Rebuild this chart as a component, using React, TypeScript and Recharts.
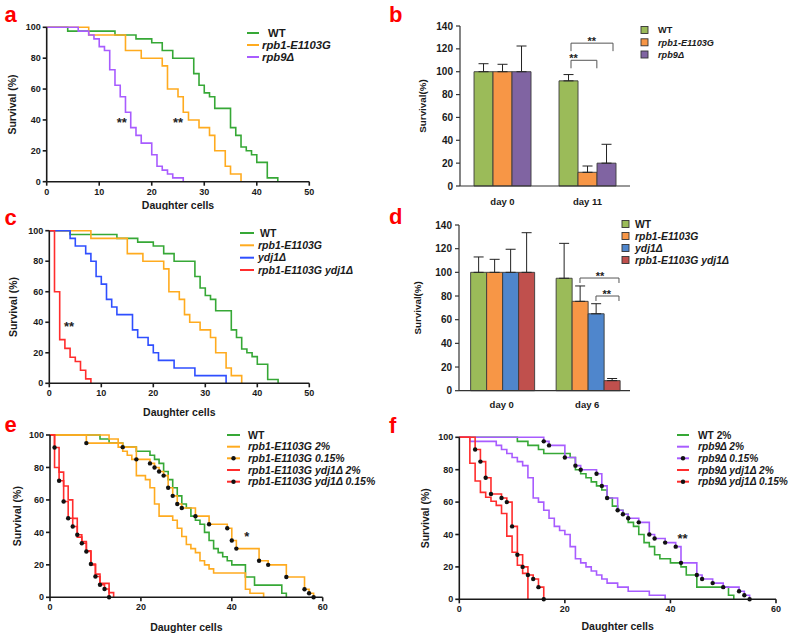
import React from 'react';
import { LineChart, Line, XAxis, YAxis, BarChart, Bar, ErrorBar, ReferenceLine, ReferenceDot } from 'recharts';

const FONT = "'Liberation Sans', Arial, Helvetica, sans-serif";
const INK = '#1a1a1a';
const GREEN = '#36a836';
const ORANGE = '#ffab1f';
const PURPLE = '#a85cff';
const BLUE = '#2f4fff';
const RED = '#ff2d2d';

// ---------- Panel a / c (survival curves: [daughter cells, survival %]) ----------
const wtA: number[][] = [[0,100],[4,97.5],[13,95],[17,92.5],[20,90],[22,85],[24,80],[28,70],[29,62.5],[30,57.5],[31,55],[32,47.5],[35,35],[36,30],[37,22.5],[38,20],[39,17.5],[40,12.5],[42,2.5],[44,0]];
const rpb1A: number[][] = [[0,100],[8,95],[15,85],[18,80],[22,75],[23,60],[25,55],[26,45],[27,40],[29,35],[31,30],[32,20],[34,10],[35,5],[37,0]];
const rpb9A: number[][] = [[0,100],[6,97.5],[8,95],[9,92.5],[10,87.5],[11,85],[12,72.5],[13,62.5],[14,55],[15,45],[16,35],[17,30],[18,25],[20,17.5],[21,10],[22,7.5],[23,5],[24,2.5],[26,0]];
const ydj1C: number[][] = [[0,100],[4,95],[5,90],[7,85],[8,80],[9,70],[10,65],[11,55],[12,50],[13,45],[16,35],[17,30],[19,25],[20,20],[21,15],[24,10],[28,5],[34,0]];
const doubleC: number[][] = [[0,100],[1,60],[2,28.6],[3,22.9],[4,17.1],[5,14.3],[6,8.6],[7,2.9],[8,0]];

// ---------- Panel e ----------
const wtE: number[][] = [[0,100],[11,97.5],[13,95],[16,92.5],[19,90],[22,87.5],[23,85],[24,82.5],[25,77.5],[26,72.5],[27,67.5],[28,62.5],[29,57.5],[30,55],[31,50],[32,47.5],[33,45],[34,40],[35,35],[36,30],[37,27.5],[38,25],[39,22.5],[40,20],[43,12.5],[45,7.5],[51,2.5],[52,0]];
const rpb1E2: number[][] = [[0,100],[13,97.5],[15,92.5],[16,90],[17,87.5],[18,85],[19,75],[21,72.5],[22,67.5],[23,57.5],[24,50],[27,47.5],[28,42.5],[29,37.5],[30,32.5],[31,30],[32,27.5],[33,22.5],[34,20],[35,17.5],[36,15],[43,5],[44,2.5],[47,0]];
const rpb1E015: number[][] = [[0,100],[8,95],[16,92.5],[19,85],[22,82.5],[23,80],[24,77.5],[25,75],[26,67.5],[27,62.5],[28,57.5],[29,55],[32,50],[35,45],[39,42.5],[40,35],[41,30],[46,22.5],[48,20],[52,12.5],[56,5],[57,2.5],[58,0]];
const dblE2: number[][] = [[0,100],[1,80],[2,77.1],[3,68.6],[4,60],[5,48.6],[6,37.1],[7,34.3],[8,28.6],[9,20],[10,14.3],[11,8.6],[13,2.9],[14,0]];
const dblE015: number[][] = [[0,100],[1,92.3],[2,71.8],[3,59],[4,48.7],[5,43.6],[6,38.5],[7,33.3],[8,28.2],[9,20.5],[10,12.8],[11,7.7],[12,5.1],[13,0]];

// ---------- Panel f ----------
const wtF: number[][] = [[0,100],[11,97.5],[13,95],[15,92.5],[16,90],[21,87.5],[22,80],[23,77.5],[24,75],[25,72.5],[26,70],[27,67.5],[28,62.5],[29,57.5],[30,55],[31,52.5],[32,47.5],[33,45],[34,40],[35,35],[36,32.5],[37,27.5],[38,25],[40,22.5],[42,20],[43,15],[45,7.5],[51,2.5],[52,0]];
const rpb9F2: number[][] = [[0,100],[2,97.5],[7,95],[8,92.5],[9,90],[10,87.5],[11,85],[12,82.5],[13,75],[14,62.5],[15,60],[16,55],[17,50],[18,45],[19,42.5],[20,40],[21,32.5],[22,25],[23,22.5],[24,20],[25,17.5],[26,15],[27,12.5],[28,10],[30,7.5],[32,5],[36,2.5],[39,0]];
const rpb9F015: number[][] = [[0,100],[16,97.5],[17,95],[20,87.5],[22,82.5],[23,80],[26,77.5],[27,70],[28,62.5],[30,55],[31,52.5],[32,50],[34,47.5],[36,40],[37,37.5],[39,35],[41,32.5],[42,22.5],[45,15],[46,12.5],[48,10],[50,7.5],[53,5],[54,2.5],[55,0]];
const dblF2: number[][] = [[0,100],[2,84],[3,73],[4,66],[5,63],[6,60.5],[7,58],[8,53],[9,39],[10,29],[11,21],[12,16],[13,0]];
const dblF015: number[][] = [[0,100],[3,92.5],[4,85],[5,75],[6,65],[8,62.5],[9,60],[10,45],[11,27.5],[12,20],[13,15],[14,12.5],[15,7.5],[16,0]];

// ---------- Legend names ----------
const aNames = ['WT', 'rpb1-E1103G', 'rpb9Δ'];
const cNames = ['WT', 'rpb1-E1103G', 'ydj1Δ', 'rpb1-E1103G ydj1Δ'];
const eNames = ['WT', 'rpb1-E1103G 2%', 'rpb1-E1103G 0.15%', 'rpb1-E1103G ydj1Δ 2%', 'rpb1-E1103G ydj1Δ 0.15%'];
const fNames = ['WT 2%', 'rpb9Δ 2%', 'rpb9Δ 0.15%', 'rpb9Δ ydj1Δ 2%', 'rpb9Δ ydj1Δ 0.15%'];

// ---------- Panel b (bars) ----------
const bCats = ['day 0', 'day 11'];
const bNames = ['WT', 'rpb1-E1103G', 'rpb9Δ'];
const bWT = [100, 92];
const bRpb1 = [100, 12];
const bRpb9 = [100, 20];
const bWTErr = [7, 5.5];
const bRpb1Err = [6.5, 5.5];
const bRpb9Err = [22.5, 16.5];

// ---------- Panel d (bars) ----------
const dCats = ['day 0', 'day 6'];
const dNames = ['WT', 'rpb1-E1103G', 'ydj1Δ', 'rpb1-E1103G ydj1Δ'];
const dWT = [100, 95];
const dRpb1 = [100, 75.5];
const dYdj1 = [100, 65];
const dDouble = [100, 8.5];
const dWTErr = [13, 29.5];
const dRpb1Err = [11, 13];
const dYdj1Err = [19.5, 8.5];
const dDoubleErr = [33.5, 1.8];

const BAR_GREEN = '#9bbb59';
const BAR_ORANGE = '#f79646';
const BAR_PURPLE = '#8064a2';
const BAR_BLUE = '#4f86cc';
const BAR_RED = '#c0504d';

type Box = { left: number; top: number; width: number; height: number };
type Plot = { l: number; r: number; t: number; b: number };
type KMSeries = { pts: number[][]; color: string; dots?: boolean };
type Star = { x: number; y: number; text: string; size: number };

const toData = (pts: number[][]) => pts.map(([x, y]) => ({ x, y }));

const renderDot = (props: any) => {
  const { cx, cy, index } = props;
  if (index === 0 || cx == null || cy == null) return <g key={`dd${index}`} />;
  return <circle key={`dd${index}`} cx={cx} cy={cy} r={2.2} fill="#111" />;
};

const starLabel = (s: Star) => ({
  value: s.text,
  position: 'center' as const,
  style: { fontSize: s.size, fontWeight: 700, fill: '#222', fontFamily: FONT },
});

function KMPanel(props: {
  box: Box; plot: Plot; xMax: number; xTicks: number[]; series: KMSeries[];
  yLabelX: number; xLabelOffset: number; stars: Star[];
}) {
  const { box, plot, xMax, xTicks, series, yLabelX, xLabelOffset, stars } = props;
  const margin = { top: plot.t - box.top, right: box.left + box.width - plot.r, left: 0, bottom: 0 };
  const yw = plot.l - box.left;
  const xh = box.top + box.height - plot.b;
  const axisStroke = { stroke: INK, strokeWidth: 1.6 };
  const tickStyle = { fontSize: 9, fontWeight: 700, fill: INK, fontFamily: FONT };
  const titleStyle = { fontSize: 10.5, fontWeight: 700, fill: INK, fontFamily: FONT };
  return (
    <div style={{ position: 'absolute', left: box.left, top: box.top, width: box.width, height: box.height }}>
      <LineChart width={box.width} height={box.height} margin={margin}>
        <XAxis type="number" dataKey="x" domain={[0, xMax]} ticks={xTicks} interval={0} height={xh}
          tick={tickStyle} tickSize={4} tickMargin={2.5} axisLine={axisStroke} tickLine={axisStroke}
          label={{ value: 'Daughter cells', position: 'insideBottom', offset: xLabelOffset, style: titleStyle }} />
        <YAxis type="number" domain={[0, 100]} ticks={[0, 20, 40, 60, 80, 100]} interval={0} width={yw}
          tick={tickStyle} tickSize={4} tickMargin={2} axisLine={axisStroke} tickLine={axisStroke}
          label={{ value: 'Survival (%)', angle: -90, position: 'insideLeft', offset: yLabelX, style: { ...titleStyle, textAnchor: 'middle' } }} />
        {series.map((s, i) => (
          <Line key={i} data={toData(s.pts)} dataKey="y" type="stepAfter" stroke={s.color} strokeWidth={1.6}
            dot={s.dots ? renderDot : false} activeDot={false} isAnimationActive={false} legendType="none" />
        ))}
        {stars.map((s, i) => (
          <ReferenceDot key={`s${i}`} x={s.x} y={s.y} r={1} fill="none" stroke="none" ifOverflow="visible" label={starLabel(s)} />
        ))}
      </LineChart>
    </div>
  );
}

type BarSeries = { key: string; vals: number[]; errs: number[]; color: string };
type Bracket = { x1: number; x2: number; y: number; y2: number };

function BarPanel(props: {
  box: Box; plot: Plot; cats: string[]; series: BarSeries[]; gap: string;
  brackets: Bracket[]; stars: Star[]; yLabelX: number; tickMargin: number;
}) {
  const { box, plot, cats, series, gap, brackets, stars, yLabelX, tickMargin } = props;
  const data = cats.map((c, i) => {
    const o: Record<string, any> = { cat: c, pos: i + 0.5 };
    series.forEach((s) => { o[s.key] = s.vals[i]; o[s.key + 'E'] = [0, s.errs[i]]; });
    return o;
  });
  const margin = { top: plot.t - box.top, right: box.left + box.width - plot.r, left: 0, bottom: 0 };
  const yw = plot.l - box.left;
  const xh = box.top + box.height - plot.b;
  const axisStroke = { stroke: '#333', strokeWidth: 1.2 };
  const tickStyle = { fontSize: 10, fontWeight: 700, fill: INK, fontFamily: FONT };
  const boundaryTicks = cats.map((_, i) => i).concat([cats.length]);
  return (
    <div style={{ position: 'absolute', left: box.left, top: box.top, width: box.width, height: box.height }}>
      <BarChart width={box.width} height={box.height} margin={margin} data={data} barCategoryGap={gap} barGap={0}>
        <XAxis xAxisId={0} type="number" dataKey="pos" domain={[0, cats.length]} ticks={boundaryTicks} interval={0} allowDataOverflow
          height={0} tick={false} tickSize={4} axisLine={false} tickLine={axisStroke} />
        <XAxis xAxisId={1} dataKey="cat" type="category" height={xh} tickLine={false} tickSize={4} tickMargin={tickMargin}
          axisLine={axisStroke} tick={{ ...tickStyle, fontSize: 9.5 }} />
        <YAxis type="number" domain={[0, 140]} ticks={[0, 20, 40, 60, 80, 100, 120, 140]} interval={0} width={yw}
          tick={tickStyle} tickSize={4} tickMargin={3} axisLine={axisStroke} tickLine={axisStroke}
          label={{ value: 'Survival(%)', angle: -90, position: 'insideLeft', offset: yLabelX, style: { fontSize: 9.8, fontWeight: 700, fill: INK, fontFamily: FONT, textAnchor: 'middle' } }} />
        {series.map((s) => (
          <Bar key={s.key} xAxisId={1} dataKey={s.key} fill={s.color} stroke="#3a3a3a" strokeWidth={0.9} isAnimationActive={false} legendType="none">
            <ErrorBar dataKey={s.key + 'E'} width={5} stroke="#222" strokeWidth={1} direction="y" />
          </Bar>
        ))}
        {brackets.map((b, i) => [
          <ReferenceLine key={`h${i}`} xAxisId={0} segment={[{ x: b.x1, y: b.y }, { x: b.x2, y: b.y }]} stroke="#555" strokeWidth={1} ifOverflow="visible" />,
          <ReferenceLine key={`l${i}`} xAxisId={0} segment={[{ x: b.x1, y: b.y }, { x: b.x1, y: b.y2 }]} stroke="#555" strokeWidth={1} ifOverflow="visible" />,
          <ReferenceLine key={`r${i}`} xAxisId={0} segment={[{ x: b.x2, y: b.y }, { x: b.x2, y: b.y2 }]} stroke="#555" strokeWidth={1} ifOverflow="visible" />,
        ])}
        {stars.map((s, i) => (
          <ReferenceDot key={`s${i}`} xAxisId={0} x={s.x} y={s.y} r={1} fill="none" stroke="none" ifOverflow="visible" label={starLabel(s)} />
        ))}
      </BarChart>
    </div>
  );
}

const isItalic = (n: string) => !n.startsWith('WT');

function LineLegend(props: { names: string[]; colors: string[]; dots: boolean[]; x1: number; x2: number; tx: number; rows: number[]; fs: number; wtShift: number }) {
  const { names, colors, dots, x1, x2, tx, rows, fs, wtShift } = props;
  return (
    <g>
      {names.map((n, i) => (
        <g key={n}>
          <line x1={x1} x2={x2} y1={rows[i]} y2={rows[i]} stroke={colors[i]} strokeWidth={2} />
          {dots[i] ? <circle cx={(x1 + x2) / 2} cy={rows[i]} r={2.2} fill="#111" /> : null}
          <text x={tx + (n === 'WT' ? wtShift : 0)} y={rows[i] + fs * 0.36} fontSize={fs} fontWeight={700}
            fontStyle={isItalic(n) ? 'italic' : 'normal'} fill={INK}>{n}</text>
        </g>
      ))}
    </g>
  );
}

function BoxLegend(props: { names: string[]; colors: string[]; sx: number; tx: number; rows: number[]; fs: number }) {
  const { names, colors, sx, tx, rows, fs } = props;
  return (
    <g>
      {names.map((n, i) => (
        <g key={n}>
          <rect x={sx} y={rows[i] - 3.5} width={7} height={7} fill={colors[i]} stroke="#333" strokeWidth={0.9} />
          <text x={tx} y={rows[i] + fs * 0.36} fontSize={fs} fontWeight={700}
            fontStyle={isItalic(n) ? 'italic' : 'normal'} fill={INK}>{n}</text>
        </g>
      ))}
    </g>
  );
}

const panelLetters = [
  { t: 'a', x: 4.5, y: 21.7 }, { t: 'b', x: 389, y: 21.7 },
  { t: 'c', x: 4.5, y: 225 }, { t: 'd', x: 389, y: 224 },
  { t: 'e', x: 4.5, y: 431.7 }, { t: 'f', x: 389, y: 433 },
];

export default function App() {
  return (
    <div style={{ position: 'absolute', left: 0, top: 0, width: 800, height: 640, background: '#fff', overflow: 'hidden' }}>
      <KMPanel
        box={{ left: 0, top: 10, width: 320, height: 200 }}
        plot={{ l: 46.7, r: 309.3, t: 27.3, b: 181.7 }}
        xMax={50} xTicks={[0, 10, 20, 30, 40, 50]} yLabelX={12.7} xLabelOffset={1}
        series={[{ pts: wtA, color: GREEN }, { pts: rpb1A, color: ORANGE }, { pts: rpb9A, color: PURPLE }]}
        stars={[{ x: 14.3, y: 38.4, text: '**', size: 13 }, { x: 25, y: 38.4, text: '**', size: 13 }]}
      />
      <KMPanel
        box={{ left: 0, top: 220, width: 320, height: 198 }}
        plot={{ l: 49.3, r: 309.3, t: 230.7, b: 383.3 }}
        xMax={50} xTicks={[0, 10, 20, 30, 40, 50]} yLabelX={13} xLabelOffset={2}
        series={[{ pts: wtA, color: GREEN }, { pts: rpb1A, color: ORANGE }, { pts: ydj1C, color: BLUE }, { pts: doubleC, color: RED }]}
        stars={[{ x: 3.8, y: 37.4, text: '**', size: 13 }]}
      />
      <KMPanel
        box={{ left: 0, top: 420, width: 340, height: 215 }}
        plot={{ l: 50, r: 322.7, t: 435, b: 597.3 }}
        xMax={60} xTicks={[0, 20, 40, 60]} yLabelX={17} xLabelOffset={4}
        series={[
          { pts: wtE, color: GREEN }, { pts: rpb1E2, color: ORANGE }, { pts: rpb1E015, color: ORANGE, dots: true },
          { pts: dblE2, color: RED }, { pts: dblE015, color: RED, dots: true },
        ]}
        stars={[{ x: 43.3, y: 37.5, text: '*', size: 13 }]}
      />
      <KMPanel
        box={{ left: 400, top: 420, width: 400, height: 215 }}
        plot={{ l: 459.3, r: 776, t: 437.3, b: 599.3 }}
        xMax={60} xTicks={[0, 20, 40, 60]} yLabelX={25} xLabelOffset={5.5}
        series={[
          { pts: wtF, color: GREEN }, { pts: rpb9F2, color: PURPLE }, { pts: rpb9F015, color: PURPLE, dots: true },
          { pts: dblF2, color: RED }, { pts: dblF015, color: RED, dots: true },
        ]}
        stars={[{ x: 42.3, y: 37.8, text: '**', size: 13 }]}
      />
      <BarPanel
        box={{ left: 400, top: 10, width: 400, height: 200 }}
        plot={{ l: 460, r: 630, t: 26, b: 186 }}
        cats={bCats} gap="16.5%" yLabelX={23} tickMargin={8}
        series={[
          { key: 'wt', vals: bWT, errs: bWTErr, color: BAR_GREEN },
          { key: 'rpb1', vals: bRpb1, errs: bRpb1Err, color: BAR_ORANGE },
          { key: 'rpb9', vals: bRpb9, errs: bRpb9Err, color: BAR_PURPLE },
        ]}
        brackets={[{ x1: 1.306, x2: 1.8, y: 125, y2: 118 }, { x1: 1.306, x2: 1.61, y: 110, y2: 103 }]}
        stars={[{ x: 1.55, y: 126.5, text: '**', size: 11 }, { x: 1.335, y: 111.5, text: '**', size: 11 }]}
      />
      <BarPanel
        box={{ left: 400, top: 215, width: 400, height: 200 }}
        plot={{ l: 459, r: 630, t: 225, b: 390.7 }}
        cats={dCats} gap="13.6%" yLabelX={18} tickMargin={6.5}
        series={[
          { key: 'wt', vals: dWT, errs: dWTErr, color: BAR_GREEN },
          { key: 'rpb1', vals: dRpb1, errs: dRpb1Err, color: BAR_ORANGE },
          { key: 'ydj1', vals: dYdj1, errs: dYdj1Err, color: BAR_BLUE },
          { key: 'dbl', vals: dDouble, errs: dDoubleErr, color: BAR_RED },
        ]}
        brackets={[{ x1: 1.415, x2: 1.871, y: 95.2, y2: 91 }, { x1: 1.602, x2: 1.871, y: 80, y2: 75.8 }]}
        stars={[{ x: 1.65, y: 96.5, text: '**', size: 11 }, { x: 1.727, y: 81.3, text: '**', size: 11 }]}
      />
      <svg width={800} height={640} style={{ position: 'absolute', left: 0, top: 0, pointerEvents: 'none' }} fontFamily={FONT}>
        {panelLetters.map((l) => (
          <text key={l.t} x={l.x} y={l.y} fontSize={22} fontWeight={700} fill="#ff0000">{l.t}</text>
        ))}
        <LineLegend names={aNames} colors={[GREEN, ORANGE, PURPLE]} dots={[false, false, false]}
          x1={247} x2={259} tx={262} rows={[33, 45, 57]} fs={11.3} wtShift={6} />
        <LineLegend names={cNames} colors={[GREEN, ORANGE, BLUE, RED]} dots={[false, false, false, false]}
          x1={240} x2={254} tx={258} rows={[233, 245.3, 257.7, 270]} fs={10.5} wtShift={2} />
        <LineLegend names={eNames} colors={[GREEN, ORANGE, ORANGE, RED, RED]} dots={[false, false, true, false, true]}
          x1={227} x2={240} tx={248} rows={[435, 446.7, 458.3, 470, 481.7]} fs={10.5} wtShift={0} />
        <LineLegend names={fNames} colors={[GREEN, PURPLE, PURPLE, RED, RED]} dots={[false, false, true, false, true]}
          x1={677} x2={689} tx={698} rows={[435, 446.7, 458.3, 470, 481.7]} fs={10.2} wtShift={0} />
        <BoxLegend names={bNames} colors={[BAR_GREEN, BAR_ORANGE, BAR_PURPLE]} sx={641} tx={658} rows={[30, 42.3, 54.5]} fs={9.2} />
        <BoxLegend names={dNames} colors={[BAR_GREEN, BAR_ORANGE, BAR_BLUE, BAR_RED]} sx={622} tx={635} rows={[224, 236, 248, 260]} fs={10.4} />
      </svg>
    </div>
  );
}
